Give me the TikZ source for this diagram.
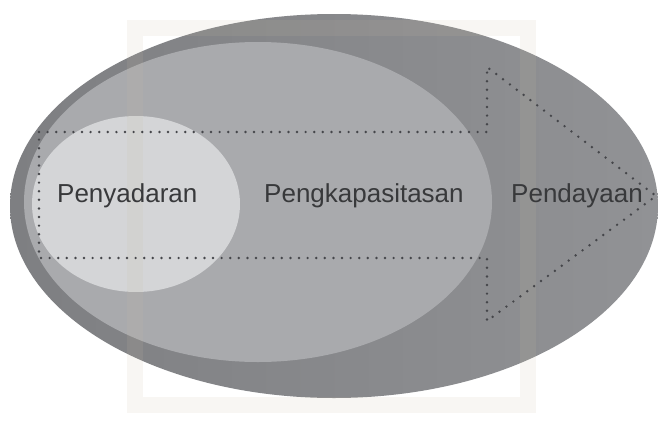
\documentclass[tikz,border=0pt]{standalone}
\usepackage{fontspec}
\setmainfont{Liberation Sans}
\definecolor{outerL}{HTML}{7E7F82}
\definecolor{outerR}{HTML}{919295}
\definecolor{midc}{HTML}{A9AAAD}
\definecolor{innerc}{HTML}{D4D5D7}
\definecolor{dotc}{HTML}{45464A}
\definecolor{txtc}{HTML}{38393B}
\definecolor{wmc}{HTML}{C9BEA6}
\tikzset{
  stagelabel/.style={anchor=base west, inner sep=0pt, font=\fontsize{26}{30}\selectfont, text=txtc},
  dotline/.style={draw=dotc, line width=2.7pt, line cap=round, dash pattern=on 0pt off 8.6pt},
  wmband/.style={draw=wmc, line width=16pt, opacity=0.13},
}
\begin{document}
\begin{tikzpicture}[x=1pt,y=-1pt]
\useasboundingbox (0,0) rectangle (658,423);
\fill[white] (0,0) rectangle (658,423);
\begin{scope}
\clip (0,0) rectangle (658,423);
% outer ellipse
\shade[left color=outerL, right color=outerR] (334,206) ellipse [x radius=324, y radius=192];
% middle ellipse
\fill[midc] (258,202) ellipse [x radius=234, y radius=160];
% inner ellipse
\fill[innerc] (136,204) ellipse [x radius=104, y radius=88];
% faint watermark frame
\draw[wmband] (135,28) rectangle (528,405);
% dotted arrow
\coordinate (a1) at (39,132);
\coordinate (a2) at (487,132);
\coordinate (a3) at (487,67);
\coordinate (a4) at (656,196);
\coordinate (a5) at (487,321);
\coordinate (a6) at (487,258);
\coordinate (a7) at (39,258);
\draw[dotline] (a1) -- (a2) -- (a3) -- (a4) -- (a5) -- (a6) -- (a7) -- cycle;
\end{scope}
\node[stagelabel] (t1) at (57,202) {Penyadaran};
\node[stagelabel] (t2) at (264,202) {Pengkapasitasan};
\node[stagelabel] (t3) at (511,202) {Pendayaan};
\end{tikzpicture}
\end{document}
